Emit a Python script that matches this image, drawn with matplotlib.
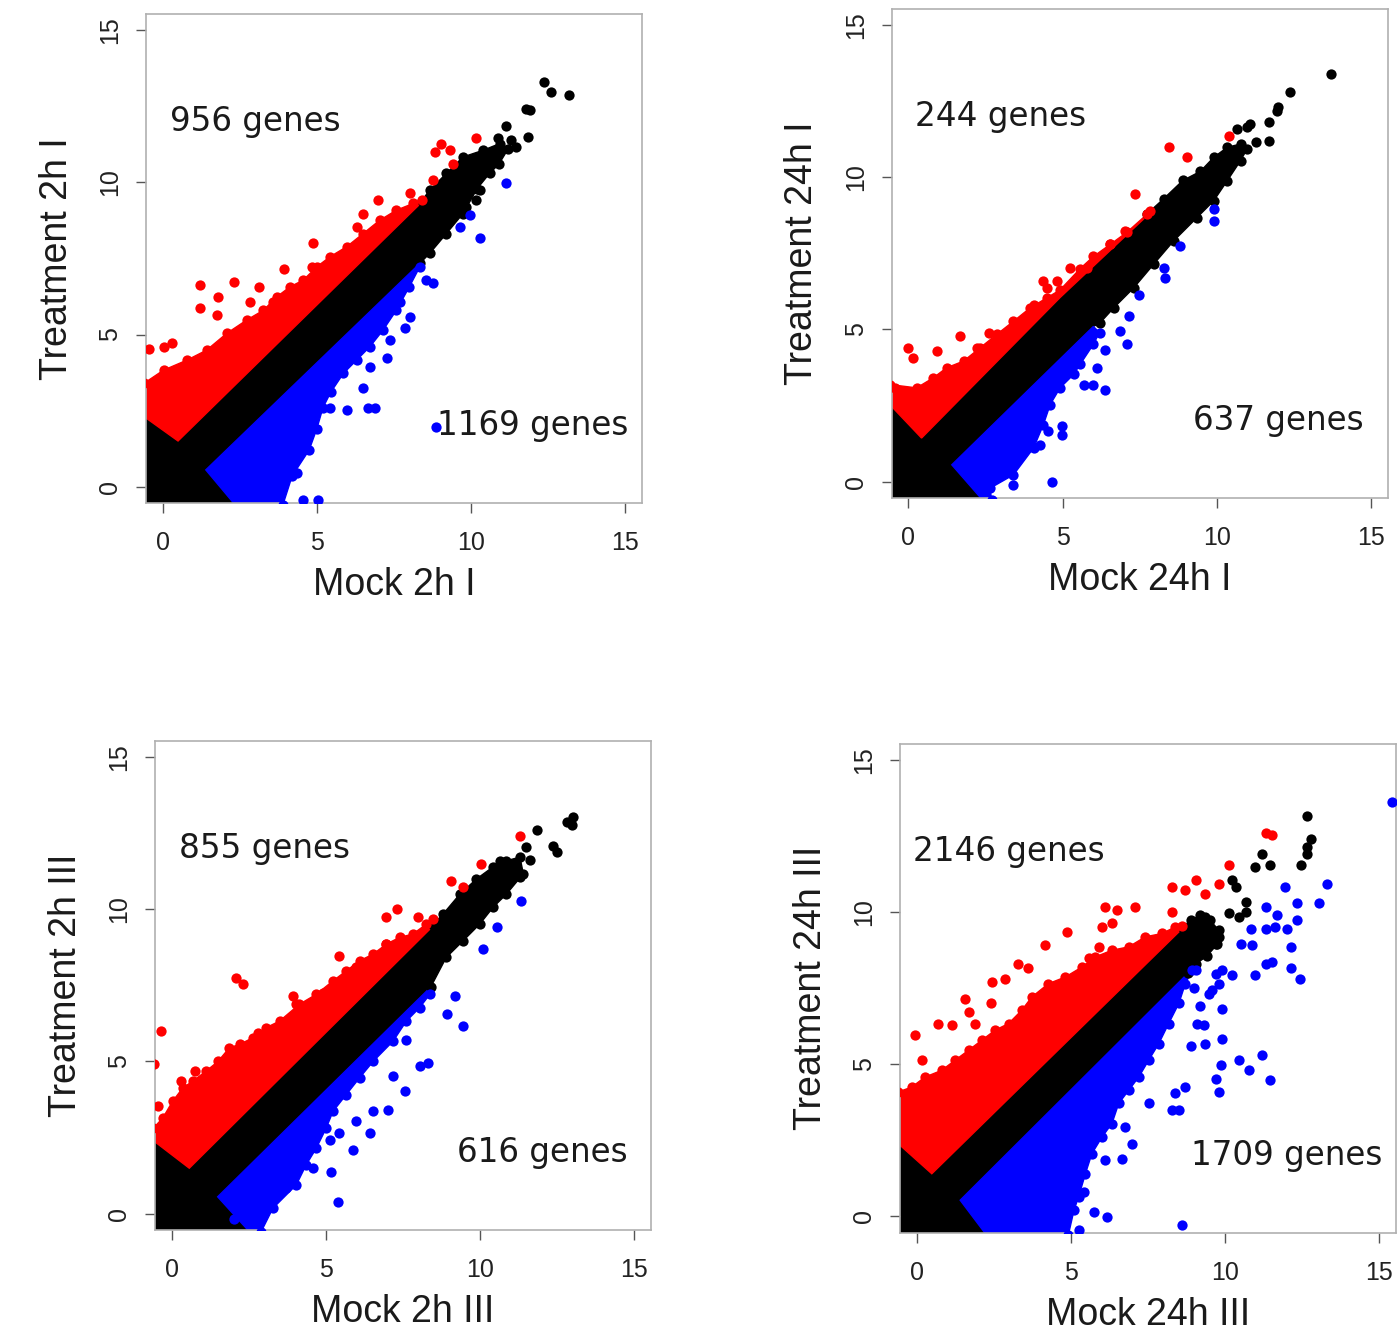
import numpy as np
import matplotlib.pyplot as plt
from matplotlib.patches import Polygon

plt.rcParams['font.family'] = ['Liberation Sans', 'DejaVu Sans']

# axis labels and gene counts per comparison
x_labels = ['Mock 2h I', 'Mock 24h I', 'Mock 2h III', 'Mock 24h III']
y_labels = ['Treatment 2h I', 'Treatment 24h I', 'Treatment 2h III', 'Treatment 24h III']
up_counts = [956, 244, 855, 2146]
down_counts = [1169, 637, 616, 1709]

#------------------------------------------------------------------------------
# 2h I
#------------------------------------------------------------------------------
p1_red_edge = [(-0.6, 3.4), (0.03, 3.83), (0.79, 4.16), (1.43, 4.49), (2.08, 5.04), (2.73, 5.48),
               (3.27, 5.80), (3.70, 6.24), (4.13, 6.57), (4.56, 6.79), (5.0, 7.23), (5.43, 7.56),
               (5.97, 7.89), (6.5, 8.32), (7.04, 8.76), (7.58, 9.09), (8.12, 9.31), (8.4, 9.42)]
p1_red_inner = [(8.4, 9.35), (0.5, 1.5), (-0.6, 2.3)]
p1_black_tip = [(8.4, 9.4), (8.66, 9.75), (9.2, 10.3), (9.74, 10.84), (10.39, 11.06), (10.93, 11.28),
                (11.2, 11.1), (10.9, 10.6), (10.6, 10.3), (10.2, 9.8), (9.74, 8.98), (9.2, 8.32),
                (8.66, 7.67), (8.34, 7.34)]
p1_blue_inner = [(8.34, 7.34), (1.4, 0.55), (2.35, -0.6)]
p1_blue_edge = [(3.9, -0.6), (4.2, 0.35), (4.75, 1.2), (5.0, 1.9), (5.2, 2.6), (5.45, 3.1),
                (5.86, 3.72), (6.29, 4.16), (6.72, 4.6), (7.15, 5.15), (7.58, 5.8), (8.0, 6.57),
                (8.34, 7.23)]
p1_red_pts = [(-0.43, 4.51), (0.03, 4.6), (0.30, 4.71), (1.22, 6.63), (1.22, 5.86), (1.81, 6.24),
              (1.76, 5.64), (2.30, 6.74), (2.84, 6.08), (3.11, 6.57), (3.59, 6.08), (3.92, 7.17),
              (4.89, 8.0), (4.83, 7.23), (6.29, 8.54), (6.50, 8.98), (6.99, 9.42), (7.48, 8.87),
              (8.02, 9.64), (8.77, 10.08), (8.82, 11.01), (9.04, 11.28), (9.31, 11.06),
              (9.42, 10.62), (10.17, 11.45)]
p1_black_pts = [(11.14, 11.85), (11.9, 12.38), (11.79, 12.43), (11.84, 11.5), (11.47, 11.17),
                (12.38, 13.31), (12.6, 12.98), (13.19, 12.87), (10.87, 11.45), (11.3, 11.39),
                (10.28, 9.75), (10.17, 9.42), (9.85, 9.2)]
p1_blue_pts = [(4.35, 0.44), (4.56, -0.44), (5.05, -0.44), (5.43, 2.57), (5.97, 2.52), (6.67, 2.57),
               (6.89, 2.57), (6.5, 3.23), (6.72, 3.94), (7.26, 4.22), (7.37, 4.82), (7.85, 5.2),
               (8.02, 5.59), (7.69, 6.08), (8.55, 6.79), (8.77, 6.68), (9.96, 8.93), (9.63, 8.54),
               (10.28, 8.16), (11.14, 9.97), (8.85, 1.95)]

#------------------------------------------------------------------------------
# 24h I
#------------------------------------------------------------------------------
p2_red_edge = [(-0.6, 3.19), (0.27, 3.08), (0.81, 3.41), (1.24, 3.74), (1.79, 3.96), (2.33, 4.4),
               (2.87, 4.84), (3.41, 5.27), (3.95, 5.71), (4.49, 6.04), (4.92, 6.3), (5.57, 7.0),
               (6.0, 7.4), (6.55, 7.8), (7.09, 8.2), (7.74, 8.79)]
p2_red_inner = [(7.7, 8.7), (4.92, 6.05), (0.43, 1.43), (-0.6, 2.53)]
p2_black_tip = [(7.74, 8.8), (8.28, 9.3), (8.9, 9.9), (9.47, 10.2), (9.9, 10.66), (10.34, 10.99),
                (10.77, 11.1), (10.98, 10.93), (10.77, 10.55), (10.34, 9.89), (9.9, 9.23),
                (9.36, 8.68), (8.6, 7.91), (7.95, 7.14), (7.31, 6.37), (6.66, 5.71), (6.2, 5.2)]
p2_blue_inner = [(6.0, 5.1), (1.41, 0.55), (2.4, -0.6)]
p2_blue_edge = [(2.7, -0.6), (2.65, -0.22), (3.41, 0.22), (4.06, 1.1), (4.38, 1.87), (4.6, 2.53),
                (4.92, 3.08), (5.36, 3.52), (5.57, 3.85), (6.0, 4.51), (6.2, 4.9)]
p2_red_pts = [(-0.43, 3.08), (0.0, 4.4), (0.16, 4.07), (0.92, 4.29), (1.68, 4.78), (2.22, 4.4),
              (2.6, 4.89), (3.52, 5.11), (4.06, 5.82), (4.38, 6.59), (4.49, 6.37), (4.82, 6.59),
              (5.25, 7.03), (5.79, 7.03), (6.55, 7.8), (7.03, 8.24), (7.36, 9.45), (7.85, 8.9),
              (8.44, 10.99), (9.04, 10.66), (10.39, 11.37)]
p2_black_pts = [(10.66, 11.59), (11.09, 11.76), (11.69, 11.81), (11.96, 12.2), (12.0, 12.31),
                (11.26, 11.15), (11.69, 11.21), (12.39, 12.8), (13.69, 13.41), (10.98, 11.65)]
p2_blue_pts = [(3.41, -0.11), (4.65, 0.0), (4.27, 1.21), (4.54, 1.65), (4.98, 1.81), (4.98, 1.54),
               (5.68, 3.19), (6.0, 3.19), (6.39, 3.02), (6.12, 3.74), (6.39, 4.34), (6.87, 4.95),
               (7.09, 4.51), (7.14, 5.44), (7.47, 6.15), (8.33, 6.7), (8.28, 7.03), (8.82, 7.75),
               (9.9, 8.57), (9.9, 8.96)]

#------------------------------------------------------------------------------
# 2h III
#------------------------------------------------------------------------------
p3_red_edge = [(-0.6, 2.8), (-0.29, 3.14), (0.03, 3.69), (0.36, 4.13), (0.68, 4.35), (1.11, 4.68),
               (1.5, 5.0), (1.87, 5.45), (2.2, 5.56), (2.63, 5.78), (3.06, 6.11), (3.5, 6.33),
               (4.14, 6.88), (4.69, 7.21), (5.23, 7.65), (5.66, 7.98), (6.09, 8.31), (6.53, 8.53),
               (6.96, 8.86), (7.39, 9.08), (7.82, 9.19), (8.26, 9.52), (8.47, 9.68)]
p3_red_inner = [(8.47, 9.45), (0.57, 1.49), (-0.6, 2.4)]
p3_black_tip = [(8.47, 9.5), (8.8, 9.85), (9.34, 10.5), (9.88, 11.0), (10.42, 11.4), (10.85, 11.6),
                (11.29, 11.72), (11.4, 11.17), (10.85, 10.5), (10.42, 10.07), (9.99, 9.52),
                (9.45, 8.97), (8.9, 8.42), (8.4, 7.45)]
p3_blue_inner = [(8.4, 7.45), (1.49, 0.55), (2.52, -0.6)]
p3_blue_edge = [(2.9, -0.6), (3.28, 0.17), (4.04, 0.94), (4.36, 1.6), (4.69, 2.15), (5.01, 2.81),
                (5.23, 3.36), (5.66, 3.91), (6.09, 4.46), (6.53, 5.0), (7.18, 5.67), (7.61, 6.33),
                (8.04, 6.77), (8.37, 7.21)]
p3_red_pts = [(-0.35, 6.0), (-0.56, 4.9), (-0.45, 3.52), (0.3, 4.35), (0.74, 4.68), (2.09, 7.76),
              (2.31, 7.54), (2.79, 5.94), (3.93, 7.15), (4.04, 6.88), (4.47, 6.88), (4.9, 7.26),
              (5.44, 8.47), (5.98, 8.09), (6.96, 9.74), (7.29, 10.01), (6.96, 8.86), (7.99, 9.74),
              (9.07, 10.95), (9.45, 10.73), (10.04, 11.5), (11.29, 12.43)]
p3_black_pts = [(11.83, 12.6), (11.5, 12.05), (11.61, 11.61), (12.37, 12.1), (12.48, 11.88),
                (12.8, 12.87), (12.97, 12.76), (13.02, 13.04), (11.29, 11.06), (10.64, 11.6)]
p3_blue_pts = [(2.03, -0.17), (3.71, 0.83), (4.58, 1.49), (5.17, 1.38), (5.39, 0.39), (5.12, 2.42),
               (5.44, 2.64), (5.88, 2.09), (5.98, 3.03), (6.42, 2.64), (6.53, 3.36), (7.01, 3.41),
               (7.55, 4.02), (7.18, 4.51), (8.04, 4.84), (8.31, 4.95), (7.61, 5.72), (8.91, 6.55),
               (9.44, 6.16), (9.18, 7.15), (10.1, 8.69), (10.53, 9.41), (11.34, 10.29)]

#------------------------------------------------------------------------------
# 24h III
#------------------------------------------------------------------------------
p4_red_edge = [(-0.6, 4.09), (-0.16, 4.25), (0.27, 4.58), (0.81, 4.8), (1.24, 5.13), (1.68, 5.46),
               (2.11, 5.79), (2.54, 6.12), (2.98, 6.34), (3.41, 6.78), (3.73, 7.21), (4.27, 7.65),
               (4.82, 7.87), (5.36, 8.2), (5.79, 8.53), (6.33, 8.75), (6.87, 8.86), (7.41, 9.19),
               (7.95, 9.3), (8.39, 9.52), (8.6, 9.55)]
p4_red_inner = [(8.6, 9.45), (0.49, 1.40), (-0.6, 2.39)]
p4_black_tip = [(8.6, 9.5), (8.9, 9.75), (9.2, 9.9), (9.5, 9.75), (9.8, 9.4), (9.75, 8.95),
                (9.4, 8.55), (9.05, 8.3), (8.8, 8.0)]
p4_blue_inner = [(8.8, 8.0), (1.41, 0.53), (2.25, -0.6)]
p4_blue_edge = [(4.92, -0.6), (5.1, 0.2), (5.25, 0.64), (5.47, 1.4), (5.68, 2.06), (6.01, 2.61),
                (6.33, 3.05), (6.55, 3.71), (6.87, 4.14), (7.2, 4.58), (7.52, 5.13), (7.85, 5.68),
                (8.17, 6.34), (8.5, 7.0), (8.71, 7.65), (8.93, 8.09)]
p4_red_pts = [(-0.05, 5.95), (0.16, 5.13), (0.7, 6.34), (1.14, 6.28), (1.57, 7.16), (1.68, 6.72),
              (1.89, 6.34), (2.41, 7.0), (2.87, 7.82), (2.44, 7.71), (3.3, 8.31), (3.62, 8.15),
              (4.17, 8.91), (4.87, 9.35), (5.57, 8.48), (5.9, 8.86), (6.11, 10.18), (6.49, 10.07),
              (7.09, 10.18), (6.0, 9.52), (6.33, 9.63), (8.28, 10.01), (8.28, 10.83), (8.71, 10.72),
              (9.04, 11.05), (9.36, 10.61), (9.79, 10.94), (10.12, 11.55), (11.31, 12.59),
              (11.53, 12.53)]
p4_black_pts = [(10.23, 11.05), (10.34, 10.83), (10.66, 10.34), (10.45, 9.85), (11.2, 11.93),
                (11.47, 11.55), (10.98, 11.49), (12.45, 11.55), (12.66, 11.93), (12.66, 12.15),
                (12.77, 12.42), (12.66, 13.16), (9.69, 8.97), (9.79, 9.19), (9.36, 9.85),
                (9.52, 9.41), (10.12, 9.96), (10.66, 10.01)]
p4_blue_pts = [(3.63, -0.02), (5.25, -0.46), (5.74, 0.14), (6.17, -0.02), (5.41, 0.8), (6.11, 1.84),
               (6.66, 1.9), (6.98, 2.39), (6.76, 2.94), (7.52, 3.71), (8.5, 3.49), (8.28, 3.49),
               (8.39, 4.04), (8.71, 4.25), (8.6, -0.3), (9.69, 4.53), (9.79, 4.09), (9.85, 4.97),
               (10.44, 5.13), (10.77, 4.8), (11.2, 5.3), (11.47, 4.47), (9.36, 5.68), (9.9, 5.84),
               (9.9, 6.83), (9.09, 6.34), (9.9, 8.09), (9.58, 7.43), (10.23, 7.93), (10.98, 7.93),
               (11.31, 8.31), (11.53, 8.37), (12.12, 8.86), (12.12, 8.15), (12.44, 7.82),
               (10.88, 8.91), (10.83, 9.46), (11.31, 9.46), (11.63, 9.52), (12.01, 9.46),
               (12.34, 9.74), (11.31, 10.18), (11.93, 10.83), (12.34, 10.29), (11.69, 9.9),
               (13.04, 10.29), (13.31, 10.94), (15.42, 13.63), (10.5, 8.97), (9.04, 8.09),
               (9.69, 7.98), (9.79, 7.65), (9.47, 7.32), (9.2, 6.9), (9.0, 7.5), (8.9, 5.6),
               (9.3, 6.3)]

panels = [
    (p1_red_edge, p1_red_inner, p1_black_tip, p1_blue_inner, p1_blue_edge, p1_red_pts, p1_black_pts, p1_blue_pts),
    (p2_red_edge, p2_red_inner, p2_black_tip, p2_blue_inner, p2_blue_edge, p2_red_pts, p2_black_pts, p2_blue_pts),
    (p3_red_edge, p3_red_inner, p3_black_tip, p3_blue_inner, p3_blue_edge, p3_red_pts, p3_black_pts, p3_blue_pts),
    (p4_red_edge, p4_red_inner, p4_black_tip, p4_blue_inner, p4_blue_edge, p4_red_pts, p4_black_pts, p4_blue_pts),
]

# axes boxes in figure fractions [left, bottom, width, height]
boxes = [[0.1044, 0.6232, 0.3548, 0.3663],
         [0.6378, 0.6270, 0.3548, 0.3663],
         [0.1109, 0.0787, 0.3548, 0.3663],
         [0.6438, 0.0766, 0.3548, 0.3663]]

RED = '#ff0000'
BLUE = '#0000ff'
BLACK = '#000000'
MS = 7.4


def dots(ax, pts, color):
    a = np.array(pts)
    ax.plot(a[:, 0], a[:, 1], 'o', color=color, ms=MS, mec='none', zorder=3)


def cloud(ax, poly, color, z):
    ax.add_patch(Polygon(poly, closed=True, facecolor=color, edgecolor=color, lw=1, zorder=z))


fig = plt.figure(figsize=(13.98, 13.35), dpi=100)

for i, (red_edge, red_inner, black_tip, blue_inner, blue_edge, red_pts, black_pts, blue_pts) in enumerate(panels):
    ax = fig.add_axes(boxes[i])

    # non-significant genes: corner near the origin plus the diagonal band
    black_poly = red_inner[::-1] + black_tip + blue_inner + [(-0.6, -0.6)]
    cloud(ax, black_poly, BLACK, 1)
    dots(ax, black_tip, BLACK)

    cloud(ax, red_edge + red_inner, RED, 2)
    dots(ax, red_edge, RED)
    cloud(ax, blue_inner + blue_edge, BLUE, 2)
    dots(ax, blue_edge, BLUE)

    dots(ax, black_pts, BLACK)
    dots(ax, red_pts, RED)
    dots(ax, blue_pts, BLUE)

    # gene counts, set a bit wider than the axis text
    ax.text(3, 12, '%d genes' % up_counts[i], ha='center', va='center', fontsize=23.5,
            family='DejaVu Sans', color='#1a1a1a', zorder=5)
    ax.text(12, 2, '%d genes' % down_counts[i], ha='center', va='center', fontsize=23.5,
            family='DejaVu Sans', color='#1a1a1a', zorder=5)

    ax.set_xlim(-0.54, 15.54)
    ax.set_ylim(-0.54, 15.54)
    ax.set_xticks([0, 5, 10, 15])
    ax.set_yticks([0, 5, 10, 15])
    ax.tick_params(direction='out', length=7, width=1, color='#555555',
                   labelsize=18, labelcolor='#222222')
    ax.tick_params(axis='x', pad=13)
    ax.tick_params(axis='y', pad=10, labelrotation=90)
    for lab in ax.get_yticklabels():
        lab.set_va('center')
    for s in ax.spines.values():
        s.set_color('#b0b0b0')
        s.set_linewidth(1.2)

    ax.set_xlabel(x_labels[i], fontsize=27, color='#1a1a1a', va='center')
    ax.xaxis.set_label_coords(0.5, -0.168)
    ax.set_ylabel(y_labels[i], fontsize=27, color='#1a1a1a', va='center', ha='center')
    ax.yaxis.set_label_coords(-0.18, 0.5)

fig.savefig('out.png', dpi=100)
